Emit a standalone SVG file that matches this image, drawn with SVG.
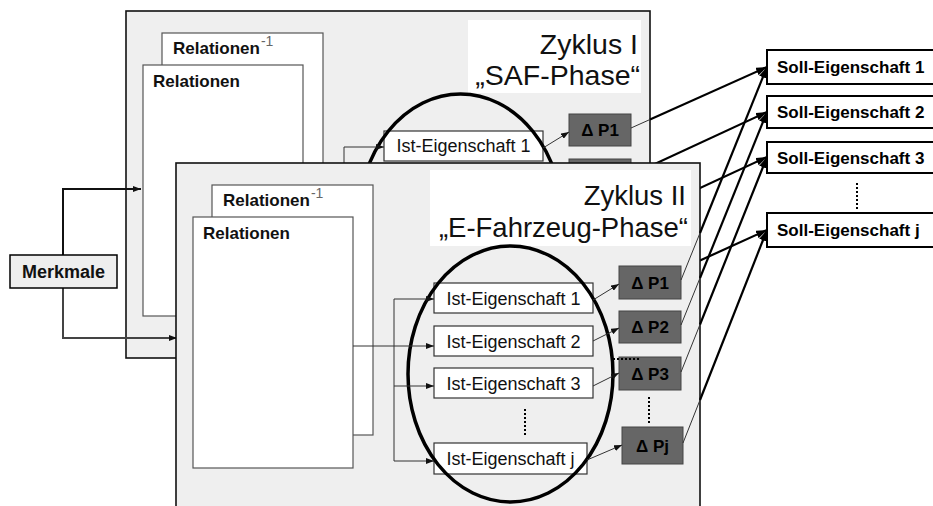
<svg xmlns="http://www.w3.org/2000/svg" width="933" height="506" viewBox="0 0 933 506">
<defs>
<style>
.panel{fill:#efefef;stroke:#111;stroke-width:1.6}
.rel{fill:#fff;stroke:#555;stroke-width:1.2}
.lblbox{fill:#fff}
.ist{fill:#fff;stroke:#333;stroke-width:1.2}
.dp{fill:#666;stroke:#444;stroke-width:1}
.soll{fill:#fff;stroke:#000;stroke-width:2}
.merk{fill:#eee;stroke:#000;stroke-width:1.5}
.ell{fill:none;stroke:#000;stroke-width:3.5}
.thin{fill:none;stroke:#333;stroke-width:1}
.thick{fill:none;stroke:#000;stroke-width:2.2}
.mk{fill:none;stroke:#111;stroke-width:2}
.dots{fill:none;stroke:#000;stroke-width:2;stroke-dasharray:2 2}
text{font-family:"Liberation Sans",Arial,sans-serif}
.t-rel{font-size:17px;font-weight:bold;fill:#111}
.t-sup{font-size:14px;font-weight:normal;fill:#666}
.t-zyk{font-size:27.5px;fill:#111;text-anchor:end}
.t-ist{font-size:18px;fill:#111;text-anchor:middle}
.t-dp{font-size:17px;font-weight:bold;fill:#000;text-anchor:middle}
.t-soll{font-size:17px;font-weight:bold;fill:#000}
.t-merk{font-size:18px;font-weight:bold;fill:#111;text-anchor:middle}
</style>
<marker id="ah" viewBox="0 0 8 6" refX="8" refY="3" markerWidth="8" markerHeight="6" markerUnits="userSpaceOnUse" orient="auto"><path d="M0,0L8,3L0,6z" fill="#111"/></marker>
<marker id="ahb" viewBox="0 0 11 8" refX="11" refY="4" markerWidth="11" markerHeight="8" markerUnits="userSpaceOnUse" orient="auto"><path d="M0,0L11,4L0,8z" fill="#000"/></marker>
</defs>

<g id="zyklus-1">
<rect class="panel" x="126" y="11" width="524" height="347"/>
<rect class="lblbox" x="468" y="20" width="173" height="73"/>
<text class="t-zyk" x="638" y="54" style="font-size:28.5px">Zyklus I</text>
<text class="t-zyk" x="640" y="85" style="font-size:28.5px">„SAF-Phase“</text>
</g>
<g id="relationen-inv-1">
<rect class="rel" x="162" y="33" width="161" height="250"/>
<text class="t-rel" x="173" y="54">Relationen<tspan class="t-sup" dx="1" dy="-8">-1</tspan></text>
</g>
<g id="relationen-1">
<rect class="rel" x="143" y="65" width="160" height="251"/>
<text class="t-rel" x="153" y="87">Relationen</text>
</g>
<g id="ist-1-1">
<rect class="ist" x="384" y="131" width="159" height="30"/>
<text class="t-ist" x="463.5" y="152">Ist-Eigenschaft 1</text>
</g>
<g id="dp1-1">
<rect class="dp" x="569" y="114" width="62" height="32"/>
<text class="t-dp" x="600" y="136">Δ P1</text>
</g>
<g id="dp2-1">
<rect class="dp" x="569" y="159" width="62" height="32"/>
</g>
<g id="ellipse-1">
<ellipse class="ell" cx="460.5" cy="222" rx="102.5" ry="128"/>
</g>

<g id="connectors-1">
<path class="thin" d="M344,200V147H384" marker-end="url(#ah)"/>
<path class="thin" d="M543,148L569,132" marker-end="url(#ah)"/>
<path class="thin" d="M631,128L650,119.5"/>
<path class="thick" d="M650,119.5L767,67" marker-end="url(#ahb)"/>
<path class="thick" d="M631,175L767,112" marker-end="url(#ahb)"/>
<path class="thick" d="M631,220L767,157" marker-end="url(#ahb)"/>
<path class="thick" d="M633,291L767,230" marker-end="url(#ahb)"/>
<path class="mk" d="M63,255V189H141" marker-end="url(#ah)"/>
<path class="mk" style="stroke:#444" d="M63,288V338H177" marker-end="url(#ah)"/>
</g>

<g id="zyklus-2">
<rect class="panel" x="176" y="163" width="524" height="350"/>
<rect class="lblbox" x="430" y="170" width="261" height="76"/>
<text class="t-zyk" x="686" y="205">Zyklus II</text>
<text class="t-zyk" x="688" y="237">„E-Fahrzeug-Phase“</text>
</g>
<g id="relationen-inv-2">
<rect class="rel" x="212" y="185" width="161" height="250"/>
<text class="t-rel" x="223" y="206">Relationen<tspan class="t-sup" dx="1" dy="-8">-1</tspan></text>
</g>
<g id="relationen-2">
<rect class="rel" x="193" y="217" width="160" height="251"/>
<text class="t-rel" x="203" y="239">Relationen</text>
</g>
<g id="ist-1-2">
<rect class="ist" x="434" y="283" width="159" height="30"/>
<text class="t-ist" x="513.5" y="304.5">Ist-Eigenschaft 1</text>
</g>
<g id="ist-2-2">
<rect class="ist" x="434" y="326" width="159" height="30"/>
<text class="t-ist" x="513.5" y="347.5">Ist-Eigenschaft 2</text>
</g>
<g id="ist-3-2">
<rect class="ist" x="434" y="368" width="159" height="30"/>
<text class="t-ist" x="513.5" y="389.5">Ist-Eigenschaft 3</text>
</g>
<g id="ist-j-2">
<rect class="ist" x="434" y="443" width="153" height="31"/>
<text class="t-ist" x="510.5" y="465">Ist-Eigenschaft j</text>
</g>
<g id="dp1-2">
<rect class="dp" x="619" y="266" width="62" height="33"/>
<text class="t-dp" x="650" y="288.5">Δ P1</text>
</g>
<g id="dp2-2">
<rect class="dp" x="619" y="311" width="62" height="32"/>
<text class="t-dp" x="650" y="333">Δ P2</text>
</g>
<g id="dp3-2">
<rect class="dp" x="619" y="357" width="62" height="33"/>
<text class="t-dp" x="650" y="379.5">Δ P3</text>
</g>
<g id="dpj-2">
<rect class="dp" x="622" y="427" width="61" height="37"/>
<text class="t-dp" x="652.5" y="451.5">Δ Pj</text>
</g>
<g id="ellipse-2">
<ellipse class="ell" cx="510.5" cy="374" rx="102.5" ry="128"/>
<path class="dots" d="M525,409V436M649,397V424M613,359H640"/>
</g>

<g id="connectors-2">
<path class="thin" d="M353,346H434" marker-end="url(#ah)"/>
<path class="thin" d="M394,299V461"/>
<path class="thin" d="M394,299H434" marker-end="url(#ah)"/>
<path class="thin" d="M394,386H434" marker-end="url(#ah)"/>
<path class="thin" d="M394,461H434" marker-end="url(#ah)"/>
<path class="thin" d="M593,300L619,284" marker-end="url(#ah)"/>
<path class="thin" d="M593,341L619,328" marker-end="url(#ah)"/>
<path class="thin" d="M593,386L619,373" marker-end="url(#ah)"/>
<path class="thin" d="M587,460L622,445" marker-end="url(#ah)"/>
<path class="thin" d="M681,280L700,233"/>
<path class="thick" d="M700,233L767,67" marker-end="url(#ahb)"/>
<path class="thin" d="M681,325L700,278"/>
<path class="thick" d="M700,278L767,112" marker-end="url(#ahb)"/>
<path class="thin" d="M681,372L700,324.5"/>
<path class="thick" d="M700,324.5L767,157" marker-end="url(#ahb)"/>
<path class="thin" d="M683,443L700,400"/>
<path class="thick" d="M700,400L767,230" marker-end="url(#ahb)"/>
</g>

<g id="soll-1">
<rect class="soll" x="767" y="50" width="180" height="34"/>
<text class="t-soll" x="777" y="73">Soll-Eigenschaft 1</text>
</g>
<g id="soll-2">
<rect class="soll" x="767" y="96" width="180" height="32"/>
<text class="t-soll" x="777" y="118">Soll-Eigenschaft 2</text>
</g>
<g id="soll-3">
<rect class="soll" x="767" y="142" width="180" height="31"/>
<text class="t-soll" x="777" y="163.5">Soll-Eigenschaft 3</text>
</g>
<g id="soll-dots">
<path class="dots" d="M857,183V210"/>
</g>
<g id="soll-j">
<rect class="soll" x="767" y="213" width="180" height="34"/>
<text class="t-soll" x="777" y="236">Soll-Eigenschaft j</text>
</g>
<g id="merkmale">
<rect class="merk" x="10" y="255" width="107" height="33"/>
<text class="t-merk" x="63.5" y="277.5">Merkmale</text>
</g>
</svg>
